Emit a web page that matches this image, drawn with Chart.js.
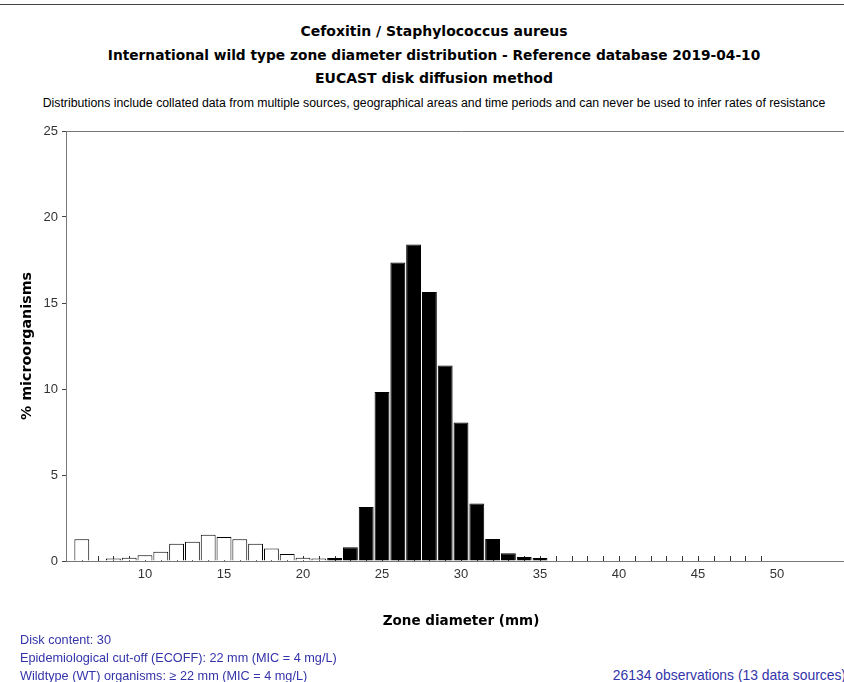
<!DOCTYPE html>
<html>
<head>
<meta charset="utf-8">
<script src="https://cdn.jsdelivr.net/npm/chart.js@4/dist/chart.umd.min.js"></script>
<style>
  html, body { margin: 0; padding: 0; background: #fff; overflow: hidden; }
  #page { position: relative; width: 868px; height: 682px; }
  .rule { position: absolute; left: 0; top: 4px; width: 868px; height: 1px; background: #444; }
  .t { position: absolute; left: 0; width: 868px; text-align: center; white-space: nowrap; color: #000; }
  .h { font: bold 14px "DejaVu Sans", sans-serif; line-height: 18px; }
  .h2 { font: bold 13.75px "DejaVu Sans", sans-serif; line-height: 18px; }
  .sub { font: 12.3px "Liberation Sans", Arial, sans-serif; line-height: 14px; }
  .foot { position: absolute; font: 12.7px "Liberation Sans", Arial, sans-serif; line-height: 18px; color: #3333aa; white-space: nowrap; }
  .foot.r { font-size: 13.9px; }
  canvas { position: absolute; left: 0; top: 115px; }
</style>
</head>
<body>
<div id="page">
  <div class="rule"></div>
  <div class="t h" style="top:22px">Cefoxitin / Staphylococcus aureus</div>
  <div class="t h2" style="top:46px">International wild type zone diameter distribution - Reference database 2019-04-10</div>
  <div class="t h" style="top:69px">EUCAST disk diffusion method</div>
  <div class="t sub" style="top:96px">Distributions include collated data from multiple sources, geographical areas and time periods and can never be used to infer rates of resistance</div>
  <canvas id="chart" width="868" height="520"></canvas>
  <div class="foot" style="left:20px; top:631px">Disk content: 30</div>
  <div class="foot" style="left:20px; top:649px">Epidemiological cut-off (ECOFF): 22 mm (MIC = 4 mg/L)</div>
  <div class="foot" style="left:20px; top:667px">Wildtype (WT) organisms: &ge; 22 mm (MIC = 4 mg/L)</div>
  <div class="foot r" style="right:22px; top:666px">26134 observations (13 data sources)</div>
</div>
<script>
// Zone diameters (mm) and share of isolates (%) at each diameter
const diameters = [6, 7, 8, 9, 10, 11, 12, 13, 14, 15, 16, 17, 18, 19, 20, 21,
                   22, 23, 24, 25, 26, 27, 28, 29, 30, 31, 32, 33, 34, 35,
                   36, 37, 38, 39, 40, 41, 42, 43, 44, 45, 46, 47, 48, 49];
const percents  = [1.26, 0, 0.14, 0.19, 0.33, 0.54, 1.01, 1.12, 1.53, 1.40, 1.26, 1.01, 0.72, 0.41, 0.19, 0.14,
                   0.17, 0.80, 3.14, 9.83, 17.35, 18.40, 15.64, 11.36, 8.05, 3.34, 1.28, 0.45, 0.23, 0.17,
                   0, 0, 0, 0, 0, 0, 0, 0, 0, 0, 0, 0, 0, 0];
const ecoff = 22;                       // wild type: zone >= ECOFF
const xTickValues = [10, 15, 20, 25, 30, 35, 40, 45, 50];
const yTickValues = [0, 5, 10, 15, 20, 25];

const points = diameters.map((d, i) => ({ x: d, y: percents[i] }));

// Short marks on the baseline at every tested diameter
const baselineMarks = {
  id: 'baselineMarks',
  beforeDatasetsDraw(chart) {
    const { ctx } = chart;
    const xs = chart.scales.x, ys = chart.scales.y;
    const y0 = Math.round(ys.getPixelForValue(0));
    ctx.save();
    ctx.strokeStyle = '#333';
    ctx.lineWidth = 1;
    ctx.beginPath();
    diameters.forEach(d => {
      const x = Math.round(xs.getPixelForValue(d)) + 0.5;
      ctx.moveTo(x, y0);
      ctx.lineTo(x, y0 - 5);
    });
    ctx.stroke();
    ctx.restore();
  }
};

new Chart(document.getElementById('chart'), {
  type: 'bar',
  data: {
    datasets: [{
      data: points,
      backgroundColor: c => (c.raw && c.raw.x >= ecoff) ? '#000' : '#fff',
      borderColor: '#000',
      borderWidth: 1,
      barPercentage: 0.94,
      categoryPercentage: 1
    }]
  },
  options: {
    responsive: false,
    animation: false,
    layout: { padding: { top: 16, right: 12, bottom: 5, left: 0 } },
    plugins: { legend: { display: false }, tooltip: { enabled: false } },
    scales: {
      x: {
        type: 'linear',
        offset: false,
        min: 5,
        max: 55,
        afterFit: s => { s.height = 69; },
        afterBuildTicks: s => { s.ticks = xTickValues.map(v => ({ value: v })); },
        grid: { display: false, drawTicks: false, tickLength: 0, offset: false },
        border: { display: true, color: '#777', width: 1 },
        ticks: { padding: 6, color: '#333', font: { family: 'Liberation Sans', size: 13 } },
        title: {
          display: true,
          text: 'Zone diameter (mm)',
          color: '#000',
          padding: 0,
          font: { family: 'DejaVu Sans', size: 13.5, weight: 'bold' }
        }
      },
      y: {
        min: 0,
        max: 25,
        afterFit: s => { s.width = 66; },
        afterBuildTicks: s => { s.ticks = yTickValues.map(v => ({ value: v })); },
        grid: {
          drawOnChartArea: true,
          color: c => c.tick && c.tick.value === 25 ? '#777' : 'rgba(0,0,0,0)',
          tickColor: '#444',
          tickLength: 4
        },
        border: { display: true, color: '#777', width: 1 },
        ticks: { padding: 4, color: '#333', font: { family: 'Liberation Sans', size: 13 } },
        title: {
          display: true,
          text: '% microorganisms',
          color: '#000',
          padding: { top: 19, bottom: 0 },
          font: { family: 'DejaVu Sans', size: 14.3, weight: 'bold' }
        }
      }
    }
  },
  plugins: [baselineMarks]
});
</script>
</body>
</html>
